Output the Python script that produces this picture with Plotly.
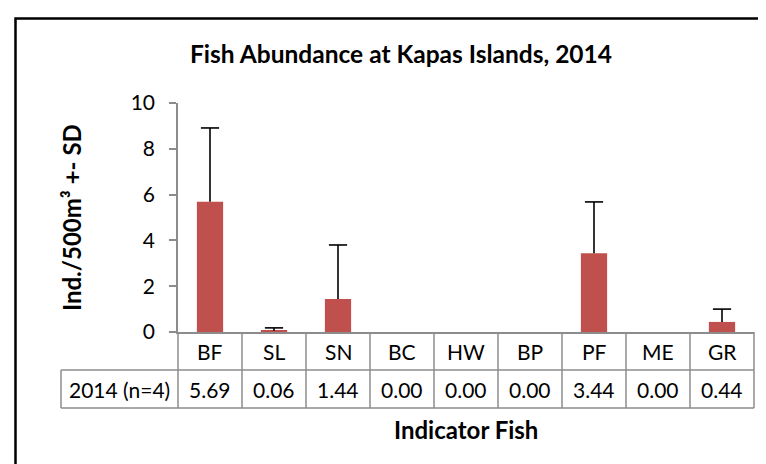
import plotly.graph_objects as go

# ---------------- data ----------------
chart_title = "Fish Abundance at Kapas Islands, 2014"
categories = ["BF", "SL", "SN", "BC", "HW", "BP", "PF", "ME", "GR"]
means = [5.69, 0.06, 1.44, 0.00, 0.00, 0.00, 3.44, 0.00, 0.44]
sds = [3.22, 0.12, 2.36, 0.00, 0.00, 0.00, 2.24, 0.00, 0.56]
row_label = "2014 (n=4)"
y_ticks = [0, 2, 4, 6, 8, 10]
x_title = "Indicator Fish"
y_title = "Ind./500m³ +- SD"

# ---------------- layout geometry (pixels) ----------------
W, H = 766, 464
L, R, T, B = 170, 20, 95, 140
pw, ph = W - L - R, H - T - B


def px_x(px):
    return (px - L) / pw


def px_y(py):
    return (H - B - py) / ph


BAR_COLOR = "#C0504D"
GRID_GRAY = "#8C8C8C"
FONT = "Lato"

n = len(categories)
caps = [m + s if s > 0 else None for m, s in zip(means, sds)]

fig = go.Figure()
fig.add_trace(go.Bar(
    x=categories, y=means,
    marker=dict(color=BAR_COLOR, line=dict(width=0)),
    error_y=dict(type="data", symmetric=False, array=sds, arrayminus=[0] * n,
                 visible=True, color="black", thickness=1.6, width=0),
    width=0.41, showlegend=False, hoverinfo="x+y",
))
fig.add_trace(go.Scatter(
    x=categories, y=caps, mode="markers",
    marker=dict(symbol="line-ew-open", size=13, color="black",
                line=dict(color="black", width=1.6)),
    showlegend=False, hoverinfo="skip", cliponaxis=False,
))

shapes = []
row1_top, row1_bot, row2_bot = 324, 362, 400
label_left = 53
line = dict(color=GRID_GRAY, width=1.5)
# horizontal table lines
for py in (row1_bot, row2_bot):
    shapes.append(dict(type="line", xref="paper", yref="paper",
                       x0=px_x(label_left), x1=1, y0=px_y(py), y1=px_y(py), line=line))
# vertical table lines (one per category boundary)
for i in range(n + 1):
    shapes.append(dict(type="line", xref="paper", yref="paper",
                       x0=i / n, x1=i / n, y0=0, y1=px_y(row2_bot), line=line))
shapes.append(dict(type="line", xref="paper", yref="paper",
                   x0=px_x(label_left), x1=px_x(label_left),
                   y0=px_y(row1_bot), y1=px_y(row2_bot), line=line))
# outer chart frame
shapes.append(dict(type="rect", xref="paper", yref="paper",
                   x0=px_x(7.5), x1=px_x(1000), y0=px_y(800), y1=px_y(10.5),
                   line=dict(color="black", width=2.5), layer="below"))

annotations = []
for i, (c, v) in enumerate(zip(categories, means)):
    xc = (i + 0.5) / n
    annotations.append(dict(x=xc, y=px_y((row1_top + row1_bot) / 2), xref="paper", yref="paper",
                            text=c, showarrow=False, font=dict(family=FONT, size=21, color="black"),
                            xanchor="center", yanchor="middle"))
    annotations.append(dict(x=xc, y=px_y((row1_bot + row2_bot) / 2), xref="paper", yref="paper",
                            text=f"{v:.2f}", showarrow=False, font=dict(family=FONT, size=21, color="black"),
                            xanchor="center", yanchor="middle"))
annotations.append(dict(x=px_x(label_left) / 2, y=px_y((row1_bot + row2_bot) / 2),
                        xref="paper", yref="paper", text=row_label, showarrow=False,
                        font=dict(family=FONT, size=21, color="black"),
                        xanchor="center", yanchor="middle"))
annotations.append(dict(x=0.5, y=px_y(421), xref="paper", yref="paper", text=f"<b>{x_title}</b>",
                        showarrow=False, font=dict(family=FONT, size=24, color="black"),
                        xanchor="center", yanchor="middle"))
annotations.append(dict(x=px_x(63), y=px_y(210), xref="paper", yref="paper", text=f"<b>{y_title}</b>",
                        showarrow=False, textangle=-90, font=dict(family=FONT, size=24, color="black"),
                        xanchor="center", yanchor="middle"))

fig.update_layout(
    width=W, height=H,
    margin=dict(l=L, r=R, t=T, b=B),
    paper_bgcolor="white", plot_bgcolor="white",
    title=dict(text=f"<b>{chart_title}</b>", x=393 / W, xref="container", xanchor="center",
               y=1 - 46.5 / H, yref="container", yanchor="middle",
               font=dict(family=FONT, size=24.5, color="black")),
    font=dict(family=FONT, color="black"),
    bargap=0.59,
    shapes=shapes, annotations=annotations,
    xaxis=dict(type="category", range=[-0.5, n - 0.5], showticklabels=False, ticks="",
               showline=True, linecolor=GRID_GRAY, linewidth=1.5, showgrid=False, zeroline=False,
               fixedrange=True),
    yaxis=dict(range=[0, 10], tickvals=y_ticks, ticks="outside", ticklen=7, tickwidth=1.5,
               tickcolor=GRID_GRAY, showline=True, linecolor=GRID_GRAY, linewidth=1.5,
               showgrid=False, zeroline=False, tickfont=dict(family=FONT, size=21, color="black"),
               ticklabelstandoff=10, fixedrange=True),
)

fig.write_html("out.html")
